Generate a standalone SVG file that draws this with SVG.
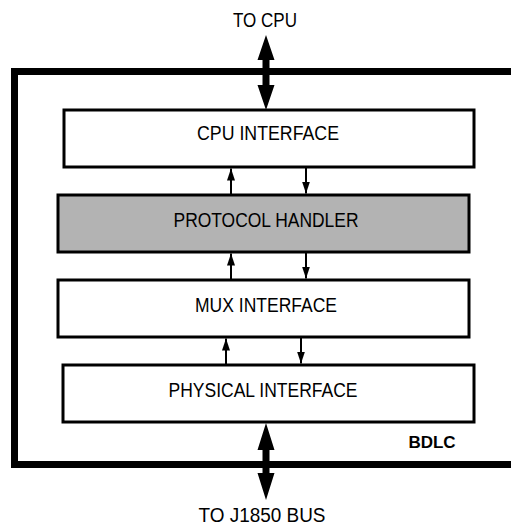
<svg xmlns="http://www.w3.org/2000/svg" width="511" height="525" viewBox="0 0 511 525">
<style>
.box{fill:#fff;stroke:#000;stroke-width:3}
.gray{fill:#b3b3b3}
.t{font-family:"Liberation Sans",Arial,sans-serif;font-size:20.5px;fill:#000;text-anchor:middle}
.b{font-weight:bold;font-size:17px}
.thin{stroke:#000;stroke-width:2;fill:none}
.frame{stroke:#000;stroke-width:7;fill:none}
.shaft{stroke:#000;stroke-width:7;fill:none}
</style>
<defs>
<marker id="ah" viewBox="0 0 12 8" refX="12" refY="4" markerWidth="12" markerHeight="8" markerUnits="userSpaceOnUse" orient="auto">
<path d="M0,0 L12,4 L0,8 Z" fill="#000"/>
</marker>
</defs>
<g id="frame">
<path class="frame" d="M520,71.5 H14.5 V464.5 H520"/>
<text class="t b" x="432" y="448">BDLC</text>
</g>
<g id="cpu-interface">
<rect class="box" x="64" y="110" width="410" height="57"/>
<text class="t" x="268" y="140" textLength="142" lengthAdjust="spacingAndGlyphs">CPU INTERFACE</text>
</g>
<g id="protocol-handler">
<rect class="box gray" x="58" y="195" width="411" height="57"/>
<text class="t" x="266" y="226.5" textLength="185" lengthAdjust="spacingAndGlyphs">PROTOCOL HANDLER</text>
</g>
<g id="mux-interface">
<rect class="box" x="58" y="280" width="411" height="57"/>
<text class="t" x="266" y="311.5" textLength="142" lengthAdjust="spacingAndGlyphs">MUX INTERFACE</text>
</g>
<g id="physical-interface">
<rect class="box" x="63" y="365" width="411" height="57"/>
<text class="t" x="263" y="396.5" textLength="189" lengthAdjust="spacingAndGlyphs">PHYSICAL INTERFACE</text>
</g>
<g id="labels">
<text class="t" x="265" y="26.5" textLength="64" lengthAdjust="spacingAndGlyphs">TO CPU</text>
<text class="t" x="262" y="522" textLength="127" lengthAdjust="spacingAndGlyphs">TO J1850 BUS</text>
</g>
<g id="connectors">
<line class="shaft" x1="266" y1="58" x2="266" y2="86"/>
<path d="M266,35 L257.5,60 L274.5,60 Z M266,110 L257.5,85 L274.5,85 Z"/>
<line class="shaft" x1="266" y1="448" x2="266" y2="476"/>
<path d="M266,423 L257.5,450 L274.5,450 Z M266,500 L257.5,473 L274.5,473 Z"/>
<line class="thin" x1="231" y1="195" x2="231" y2="168.5" marker-end="url(#ah)"/>
<line class="thin" x1="306" y1="167" x2="306" y2="193.5" marker-end="url(#ah)"/>
<line class="thin" x1="231" y1="280" x2="231" y2="253.5" marker-end="url(#ah)"/>
<line class="thin" x1="306" y1="252" x2="306" y2="278.5" marker-end="url(#ah)"/>
<line class="thin" x1="226" y1="365" x2="226" y2="338.5" marker-end="url(#ah)"/>
<line class="thin" x1="301" y1="337" x2="301" y2="363.5" marker-end="url(#ah)"/>
</g>
</svg>
